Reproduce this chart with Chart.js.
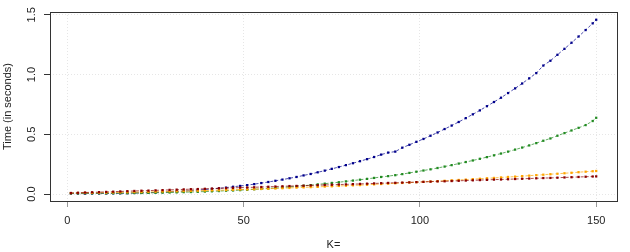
<!DOCTYPE html>
<html>
<head>
  <meta charset="UTF-8">
  <title>Time vs K</title>
  <script src="https://cdn.jsdelivr.net/npm/chart.js"></script>
  <style>
    html, body { margin: 0; padding: 0; background: #fff; }
  </style>
</head>
<body>
<canvas id="timeChart" width="630" height="252"></canvas>

<script>
  // valeurs de K (axe x)
  const kValues = [1, 3, 5, 7, 9, 11, 13, 15, 17, 19, 21, 23, 25, 27, 29, 31, 33, 35, 37, 39,
    41, 43, 45, 47, 49, 51, 53, 55, 57, 59, 61, 63, 65, 67, 69, 71, 73, 75, 77, 79,
    81, 83, 85, 87, 89, 91, 93, 95, 97, 99, 101, 103, 105, 107, 109, 111, 113, 115, 117, 119,
    121, 123, 125, 127, 129, 131, 133, 135, 137, 139, 141, 143, 145, 147, 149, 150];

  // temps mesurés (secondes)
  const timeBlue = [0.004, 0.004, 0.004, 0.005, 0.005, 0.005, 0.006, 0.006, 0.007, 0.009, 0.010, 0.012, 0.014, 0.016, 0.019, 0.022, 0.025, 0.029, 0.033, 0.038,
    0.043, 0.048, 0.054, 0.061, 0.068, 0.075, 0.083, 0.092, 0.101, 0.111, 0.121, 0.132, 0.143, 0.156, 0.168, 0.182, 0.196, 0.211, 0.226, 0.242,
    0.258, 0.275, 0.292, 0.310, 0.330, 0.347, 0.355, 0.388, 0.412, 0.437, 0.461, 0.488, 0.515, 0.544, 0.573, 0.603, 0.635, 0.667, 0.700, 0.735,
    0.770, 0.806, 0.845, 0.884, 0.925, 0.968, 1.012, 1.075, 1.115, 1.165, 1.215, 1.266, 1.318, 1.372, 1.428, 1.458];

  const timeGreen = [0.006, 0.006, 0.007, 0.006, 0.007, 0.007, 0.007, 0.008, 0.008, 0.009, 0.009, 0.010, 0.011, 0.012, 0.013, 0.014, 0.016, 0.017, 0.019, 0.021,
    0.023, 0.025, 0.028, 0.030, 0.033, 0.036, 0.040, 0.043, 0.047, 0.051, 0.055, 0.060, 0.065, 0.070, 0.075, 0.081, 0.087, 0.093, 0.099, 0.106,
    0.113, 0.120, 0.127, 0.135, 0.143, 0.150, 0.158, 0.167, 0.177, 0.187, 0.197, 0.207, 0.218, 0.230, 0.242, 0.255, 0.268, 0.281, 0.295, 0.309,
    0.324, 0.339, 0.355, 0.372, 0.389, 0.407, 0.426, 0.446, 0.465, 0.488, 0.510, 0.532, 0.554, 0.577, 0.611, 0.638];

  const timeOrange = [0.008, 0.009, 0.010, 0.010, 0.011, 0.012, 0.013, 0.014, 0.015, 0.016, 0.017, 0.018, 0.019, 0.021, 0.022, 0.023, 0.025, 0.026, 0.028, 0.029,
    0.031, 0.032, 0.034, 0.036, 0.038, 0.039, 0.041, 0.043, 0.045, 0.047, 0.049, 0.051, 0.054, 0.056, 0.058, 0.060, 0.063, 0.065, 0.068, 0.070,
    0.073, 0.075, 0.078, 0.081, 0.084, 0.087, 0.090, 0.093, 0.096, 0.099, 0.102, 0.105, 0.108, 0.111, 0.115, 0.118, 0.121, 0.125, 0.128, 0.132,
    0.135, 0.139, 0.143, 0.146, 0.150, 0.154, 0.158, 0.162, 0.166, 0.170, 0.174, 0.178, 0.183, 0.187, 0.191, 0.193];

  const timeRed = [0.009, 0.011, 0.013, 0.015, 0.016, 0.018, 0.020, 0.022, 0.024, 0.026, 0.028, 0.029, 0.031, 0.033, 0.035, 0.037, 0.039, 0.041, 0.042, 0.044,
    0.046, 0.048, 0.050, 0.052, 0.054, 0.055, 0.057, 0.059, 0.061, 0.063, 0.065, 0.067, 0.068, 0.070, 0.072, 0.074, 0.076, 0.078, 0.080, 0.081,
    0.083, 0.085, 0.087, 0.089, 0.091, 0.093, 0.094, 0.096, 0.098, 0.100, 0.102, 0.104, 0.106, 0.107, 0.109, 0.111, 0.113, 0.115, 0.117, 0.119,
    0.121, 0.122, 0.124, 0.126, 0.128, 0.130, 0.132, 0.134, 0.135, 0.137, 0.139, 0.141, 0.143, 0.145, 0.147, 0.148];

  const xTicks = [0, 50, 100, 150];
  const yTicks = [0, 0.5, 1.0, 1.5];

  const FONT = { family: "'Liberation Sans', Arial, sans-serif", size: 11 };

  function makeSet(values, color, lineColor) {
    return {
      data: kValues.map((k, i) => ({ x: k, y: values[i] })),
      borderColor: lineColor,
      backgroundColor: color,
      borderWidth: 1,
      borderDash: [3, 2],
      pointStyle: 'rect',
      pointRadius: 1.6,
      pointBorderWidth: 0,
      pointBackgroundColor: color,
      tension: 0,
      fill: false
    };
  }

  // cadre + étiquettes de l'axe y tournées
  const boxPlugin = {
    id: 'boxPlugin',
    afterDraw(chart) {
      const ctx = chart.ctx;
      const a = chart.chartArea;
      ctx.save();
      ctx.strokeStyle = '#333';
      ctx.lineWidth = 1;
      ctx.strokeRect(Math.round(a.left) + 0.5, Math.round(a.top) + 0.5,
        Math.round(a.right - a.left), Math.round(a.bottom - a.top));
      const ys = chart.scales.y;
      ctx.fillStyle = '#222';
      ctx.font = FONT.size + 'px ' + FONT.family;
      ctx.textAlign = 'center';
      ctx.textBaseline = 'middle';
      yTicks.forEach(v => {
        ctx.save();
        ctx.translate(32, ys.getPixelForValue(v));
        ctx.rotate(-Math.PI / 2);
        ctx.fillText(v.toFixed(1), 0, 0);
        ctx.restore();
      });
      ctx.restore();
    }
  };

  new Chart(document.getElementById('timeChart'), {
    type: 'line',
    data: {
      datasets: [
        makeSet(timeRed, '#8B0000', 'rgba(139,0,0,0.7)'),
        makeSet(timeOrange, '#FFA500', 'rgba(255,165,0,0.7)'),
        makeSet(timeGreen, '#228B22', 'rgba(34,139,34,0.7)'),
        makeSet(timeBlue, '#00008B', 'rgba(0,0,139,0.7)')
      ]
    },
    options: {
      responsive: false,
      animation: false,
      layout: { padding: { top: 12, right: 13, left: 0, bottom: 0 } },
      plugins: { legend: { display: false }, tooltip: { enabled: false } },
      scales: {
        x: {
          type: 'linear',
          min: -4.93,
          max: 155.9,
          afterBuildTicks: s => { s.ticks = xTicks.map(v => ({ value: v })); },
          afterFit: s => { s.height = 51; },
          grid: { color: '#e6e6e6', tickColor: '#999', tickLength: 6, lineWidth: 1 },
          border: { display: false, dash: [1, 2] },
          ticks: { color: '#222', font: FONT, padding: 7, maxRotation: 0, autoSkip: false },
          title: { display: true, text: 'K=', color: '#222', font: FONT, padding: 0 }
        },
        y: {
          min: -0.058,
          max: 1.523,
          afterBuildTicks: s => { s.ticks = yTicks.map(v => ({ value: v })); },
          afterFit: s => { s.width = 50; },
          grid: { color: '#e6e6e6', tickColor: '#333', tickLength: 6, lineWidth: 1 },
          border: { display: false, dash: [1, 2] },
          ticks: { display: false },
          title: { display: true, text: 'Time (in seconds)', color: '#222', font: FONT, padding: { top: 1, bottom: 0 } }
        }
      }
    },
    plugins: [boxPlugin]
  });
</script>
</body>
</html>
